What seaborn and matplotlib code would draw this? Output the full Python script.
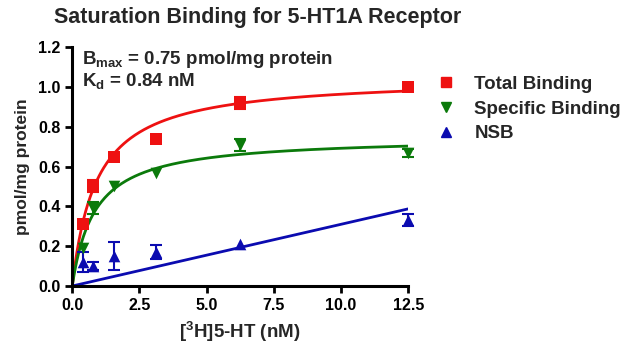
import numpy as np
import pandas as pd
import matplotlib
matplotlib.use("Agg")
import matplotlib.pyplot as plt
import seaborn as sns

# ---- data ----
conc = [0.39, 0.78, 1.56, 3.125, 6.25, 12.5]
total = [0.31, 0.50, 0.65, 0.74, 0.92, 1.00]
total_err = [0.0, 0.03, 0.0, 0.0, 0.03, 0.02]
specific = [0.19, 0.39, 0.50, 0.57, 0.71, 0.67]
specific_err = [0.0, 0.03, 0.0, 0.0, 0.03, 0.02]
nsb = [0.12, 0.10, 0.15, 0.17, 0.21, 0.33]
nsb_err = [0.05, 0.02, 0.07, 0.035, 0.0, 0.03]

# fit parameters
bmax_spec, kd_spec = 0.75, 0.84
bmax_total, kd_total = 1.05, 0.90
nsb_slope = 0.031

x_ticks = [0.0, 2.5, 5.0, 7.5, 10.0, 12.5]
y_ticks = [0.0, 0.2, 0.4, 0.6, 0.8, 1.0, 1.2]

sns.set_theme(style="ticks")
plt.rcParams["font.family"] = ["Liberation Sans", "DejaVu Sans"]
plt.rcParams["font.weight"] = "bold"
plt.rcParams["mathtext.fontset"] = "custom"
plt.rcParams["mathtext.rm"] = "Liberation Sans:bold"
plt.rcParams["mathtext.bf"] = "Liberation Sans:bold"
plt.rcParams["mathtext.default"] = "bf"

fig = plt.figure(figsize=(6.28, 3.54), dpi=100)
ax = fig.add_axes([0.115, 0.192, 0.535, 0.675])

red, green, blue = "#ee1111", "#0b7a0b", "#0b0bb0"

xs = np.linspace(0, 12.5, 300)
fits = pd.DataFrame({
    "x": xs,
    "total": bmax_total * xs / (kd_total + xs),
    "specific": bmax_spec * xs / (kd_spec + xs),
    "nsb": nsb_slope * xs,
})
sns.lineplot(data=fits, x="x", y="total", color=red, lw=2, ax=ax)
sns.lineplot(data=fits, x="x", y="specific", color=green, lw=2, ax=ax)
sns.lineplot(data=fits, x="x", y="nsb", color=blue, lw=2, ax=ax)

series = [
    ("Total Binding", total, total_err, red, "s"),
    ("Specific Binding", specific, specific_err, green, "v"),
    ("NSB", nsb, nsb_err, blue, "^"),
]
handles = []
for name, vals, errs, col, mk in series:
    ex = [c for c, e in zip(conc, errs) if e > 0]
    ey = [v for v, e in zip(vals, errs) if e > 0]
    ee = [e for e in errs if e > 0]
    ax.errorbar(ex, ey, yerr=ee, fmt="none", ecolor=col, elinewidth=1.5,
                capsize=4.5, capthick=1.5, clip_on=False, zorder=4)
    df = pd.DataFrame({"x": conc, "y": vals})
    sns.scatterplot(data=df, x="x", y="y", marker=mk, color=col, s=70,
                    edgecolor=col, linewidth=0, ax=ax, clip_on=False, zorder=5)
    handles.append(plt.Line2D([], [], ls="none", marker=mk, color=col,
                              markersize=7.5, label=name))

ax.set_xlim(0, 12.5)
ax.set_ylim(0, 1.2)
ax.set_xticks(x_ticks)
ax.set_xticklabels([f"{t:.1f}" for t in x_ticks])
ax.set_yticks(y_ticks)
ax.set_yticklabels([f"{t:.1f}" for t in y_ticks])
for s in ["top", "right"]:
    ax.spines[s].set_visible(False)
for s in ["left", "bottom"]:
    ax.spines[s].set_linewidth(2.2)
    ax.spines[s].set_color("black")
ax.tick_params(axis="both", width=2, length=5, labelsize=11.5, colors="black",
               direction="out")
for lab in ax.get_xticklabels() + ax.get_yticklabels():
    lab.set_fontweight("bold")

ax.set_xlabel(r"[$^{3}$H]5-HT (nM)", fontsize=13.5, fontweight="bold", labelpad=5)
ax.set_ylabel("pmol/mg protein", fontsize=12.5, fontweight="bold", labelpad=6)

fig.text(0.41, 0.95, "Saturation Binding for 5-HT1A Receptor", ha="center",
         va="center", fontsize=15.5, fontweight="bold")
ax.text(0.37, 1.116, r"B$_{max}$ = 0.75 pmol/mg protein", fontsize=13.5,
        fontweight="bold", va="baseline", ha="left")
ax.text(0.37, 1.005, r"K$_{d}$ = 0.84 nM", fontsize=13.5,
        fontweight="bold", va="baseline", ha="left")

leg = ax.legend(handles=handles, loc="upper left", bbox_to_anchor=(1.035, 0.95),
                frameon=False, fontsize=13.5, handletextpad=1.0, labelspacing=0.4,
                handlelength=1.0)
for t in leg.get_texts():
    t.set_fontweight("bold")

fig.savefig("out.png", dpi=100)
